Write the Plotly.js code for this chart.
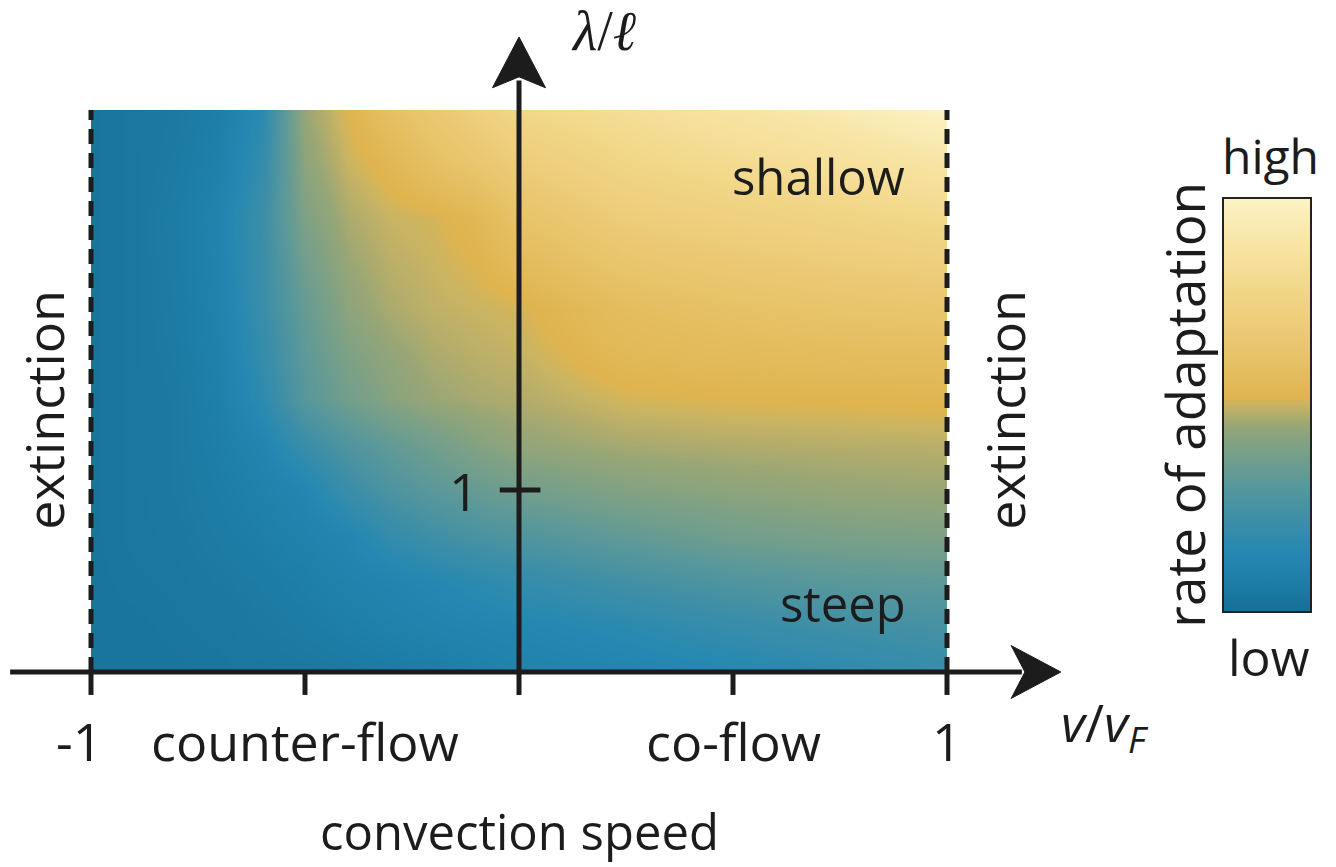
<!DOCTYPE html>
<html>
<head>
<meta charset="utf-8">
<script src="https://cdn.plot.ly/plotly-3.0.1.min.js"></script>
<style>
  html, body { margin: 0; padding: 0; background: #ffffff; }
  #chart { width: 1336px; height: 867px; }
</style>
</head>
<body>
<div id="chart"></div>
<script>
// Convection speed v/vF (columns) and gradient length λ/ℓ (rows)
const speeds = [-1, -0.9, -0.8, -0.7, -0.6, -0.5, -0.4, -0.3, -0.2, -0.1, 0, 0.25, 0.5, 0.75, 1];
const lengths = [0, 0.25, 0.5, 0.75, 1, 1.25, 1.5, 1.75, 2, 2.5, 2.8, 3.088];

// Rate of adaptation (0 = low, 1 = high), one row per gradient length
const rate_l000 = [0.03, 0.03, 0.03, 0.035, 0.04, 0.045, 0.05, 0.06, 0.068, 0.085, 0.10, 0.12, 0.14, 0.17, 0.20];
const rate_l025 = [0.03, 0.03, 0.035, 0.04, 0.05, 0.06, 0.077, 0.094, 0.11, 0.12, 0.13, 0.16, 0.20, 0.23, 0.25];
const rate_l050 = [0.03, 0.035, 0.04, 0.05, 0.06, 0.077, 0.10, 0.12, 0.14, 0.165, 0.19, 0.24, 0.28, 0.31, 0.32];
const rate_l075 = [0.03, 0.04, 0.045, 0.06, 0.077, 0.10, 0.13, 0.19, 0.23, 0.26, 0.28, 0.33, 0.37, 0.39, 0.40];
const rate_l100 = [0.03, 0.04, 0.05, 0.068, 0.094, 0.13, 0.21, 0.27, 0.31, 0.34, 0.37, 0.41, 0.43, 0.445, 0.45];
const rate_l125 = [0.03, 0.04, 0.05, 0.077, 0.12, 0.21, 0.28, 0.33, 0.37, 0.41, 0.44, 0.465, 0.475, 0.48, 0.485];
const rate_l150 = [0.03, 0.04, 0.05, 0.085, 0.17, 0.30, 0.37, 0.42, 0.45, 0.465, 0.475, 0.51, 0.52, 0.525, 0.53];
const rate_l175 = [0.03, 0.04, 0.055, 0.094, 0.19, 0.32, 0.40, 0.44, 0.47, 0.485, 0.495, 0.55, 0.565, 0.575, 0.58];
const rate_l200 = [0.03, 0.04, 0.06, 0.10, 0.21, 0.34, 0.43, 0.47, 0.49, 0.50, 0.51, 0.58, 0.61, 0.63, 0.645];
const rate_l250 = [0.03, 0.04, 0.065, 0.11, 0.22, 0.40, 0.47, 0.50, 0.51, 0.54, 0.62, 0.70, 0.73, 0.76, 0.79];
const rate_l280 = [0.03, 0.04, 0.055, 0.09, 0.19, 0.43, 0.50, 0.54, 0.60, 0.65, 0.70, 0.77, 0.81, 0.85, 0.89];
const rate_l309 = [0.03, 0.04, 0.05, 0.077, 0.16, 0.45, 0.52, 0.60, 0.66, 0.72, 0.78, 0.83, 0.88, 0.93, 1.0];

// Tick positions and labels on the speed axis
const speedTicks = [-1, -0.5, 0.5, 1];
const speedTickLabels = ['-1', 'counter-flow', 'co-flow', '1'];
const speedTickLabelX = [-1.028, -0.5, 0.5, 1];
const lengthTicks = [1];
const lengthTickLabels = ['1'];

const rateGrid = [rate_l000, rate_l025, rate_l050, rate_l075, rate_l100, rate_l125,
                  rate_l150, rate_l175, rate_l200, rate_l250, rate_l280, rate_l309];

const rateColors = [
  [0.00, '#166f96'],
  [0.08, '#1f7fa9'],
  [0.14, '#2588b2'],
  [0.22, '#3c8ea8'],
  [0.31, '#5a989a'],
  [0.40, '#7ea185'],
  [0.45, '#98a676'],
  [0.48, '#b6ad6a'],
  [0.50, '#c9b463'],
  [0.52, '#dfb44f'],
  [0.55, '#e2b957'],
  [0.63, '#e8c46b'],
  [0.78, '#f2d789'],
  [0.90, '#f8e6a8'],
  [1.00, '#fcf3c5']
];

const W = 1336, H = 867;
const INK = '#1c1c1c';
const FONT = 'Open Sans, Noto Sans, sans-serif';

const heat = {
  type: 'heatmap',
  x: speeds,
  y: lengths,
  z: rateGrid,
  xaxis: 'x2',
  yaxis: 'y2',
  zmin: 0,
  zmax: 1,
  zsmooth: 'best',
  colorscale: rateColors,
  hoverinfo: 'skip',
  showscale: true,
  colorbar: {
    thicknessmode: 'pixels', thickness: 88,
    lenmode: 'pixels', len: 414,
    x: 1223 / W, xanchor: 'left', xpad: 0,
    y: 1 - 405 / H, yanchor: 'middle', ypad: 0,
    outlinewidth: 2, outlinecolor: '#222',
    borderwidth: 0,
    ticks: '', showticklabels: false
  }
};

// Outer axes: same scale as the heatmap, spanning the whole page
const pxX = 428, pxY = 182;          // pixels per unit
const x0px = 91, y0px = 672;         // position of v/vF = -1, λ/ℓ = 0
const xr = [-1 - x0px / pxX, -1 + (W - x0px) / pxX];
const yr = [-(H - y0px) / pxY, y0px / pxY];
const topL = lengths[lengths.length - 1];

const shapes = [];
const lineShape = (x0, y0, x1, y1, w, dash) => ({
  type: 'line', xref: 'x', yref: 'y', x0, y0, x1, y1,
  line: { color: INK, width: w, dash: dash || 'solid' }, layer: 'above'
});

// extinction boundaries
shapes.push(lineShape(-1, 0, -1, topL, 5, '15px,9px'));
shapes.push(lineShape(1, 0, 1, topL, 5, '15px,9px'));
// horizontal axis with arrow
shapes.push(lineShape(-1.189, 0, 1.175, 0, 5));
shapes.push({ type: 'path', xref: 'x', yref: 'y', layer: 'above',
  path: 'M 1.266,0 L 1.150,0.145 L 1.182,0 L 1.150,-0.145 Z',
  fillcolor: INK, line: { color: INK, width: 1 } });
// vertical axis with arrow
shapes.push(lineShape(0, -0.126, 0, 3.25, 5));
shapes.push({ type: 'path', xref: 'x', yref: 'y', layer: 'above',
  path: 'M 0,3.489 L 0.062,3.21 L 0,3.27 L -0.062,3.21 Z',
  fillcolor: INK, line: { color: INK, width: 1 } });
// ticks
speedTicks.forEach(t => shapes.push(lineShape(t, 0, t, -0.126, 5)));
lengthTicks.forEach(t => shapes.push(lineShape(-0.045, t, 0.05, t, 5)));

const ann = (text, x, y, size, extra) => Object.assign({
  text, x, y, xref: 'x', yref: 'y', showarrow: false,
  xanchor: 'center', yanchor: 'middle',
  font: { family: FONT, size, color: INK }
}, extra || {});

const annotations = [];
speedTickLabels.forEach((lab, i) => {
  annotations.push(ann(lab, speedTickLabelX[i], -0.375, 52));
});
lengthTicks.forEach((t, i) => annotations.push(ann(lengthTickLabels[i], -0.128, t, 52)));
annotations.push(ann('convection speed', 0, -0.875, 49));
annotations.push(ann('shallow', 0.699, 2.725, 49));
annotations.push(ann('steep', 0.757, 0.38, 49));
annotations.push(ann('extinction', -1.11, 1.44, 52, { textangle: -90 }));
annotations.push(ann('extinction', 1.135, 1.44, 52, { textangle: -90 }));
annotations.push(ann('rate of adaptation', 1.553, 1.467, 53, { textangle: -90 }));
annotations.push(ann('high', 1.755, 2.84, 48));
annotations.push(ann('low', 1.752, 0.08, 50));
annotations.push(ann('<i>v</i>/<i>v<sub>F</sub></i>', 1.37, -0.29, 52));
annotations.push(ann('<i>λ</i>/<i>ℓ</i>', 0.198, 3.52, 56,
  { font: { family: 'Liberation Serif, DejaVu Serif, serif', size: 56, color: INK } }));

const layout = {
  width: W, height: H,
  autosize: false,
  margin: { l: 0, r: 0, t: 0, b: 0, pad: 0 },
  paper_bgcolor: '#ffffff',
  plot_bgcolor: 'rgba(0,0,0,0)',
  showlegend: false,
  xaxis: { range: xr, visible: false, fixedrange: true, domain: [0, 1] },
  yaxis: { range: yr, visible: false, fixedrange: true, domain: [0, 1] },
  xaxis2: { range: [-1, 1], domain: [x0px / W, (x0px + 2 * pxX) / W],
            anchor: 'y2', visible: false, fixedrange: true },
  yaxis2: { range: [0, topL], domain: [1 - y0px / H, 1 - (y0px - topL * pxY) / H],
            anchor: 'x2', visible: false, fixedrange: true },
  shapes, annotations
};

Plotly.newPlot('chart', [heat], layout, { staticPlot: true, displayModeBar: false });
</script>
</body>
</html>
